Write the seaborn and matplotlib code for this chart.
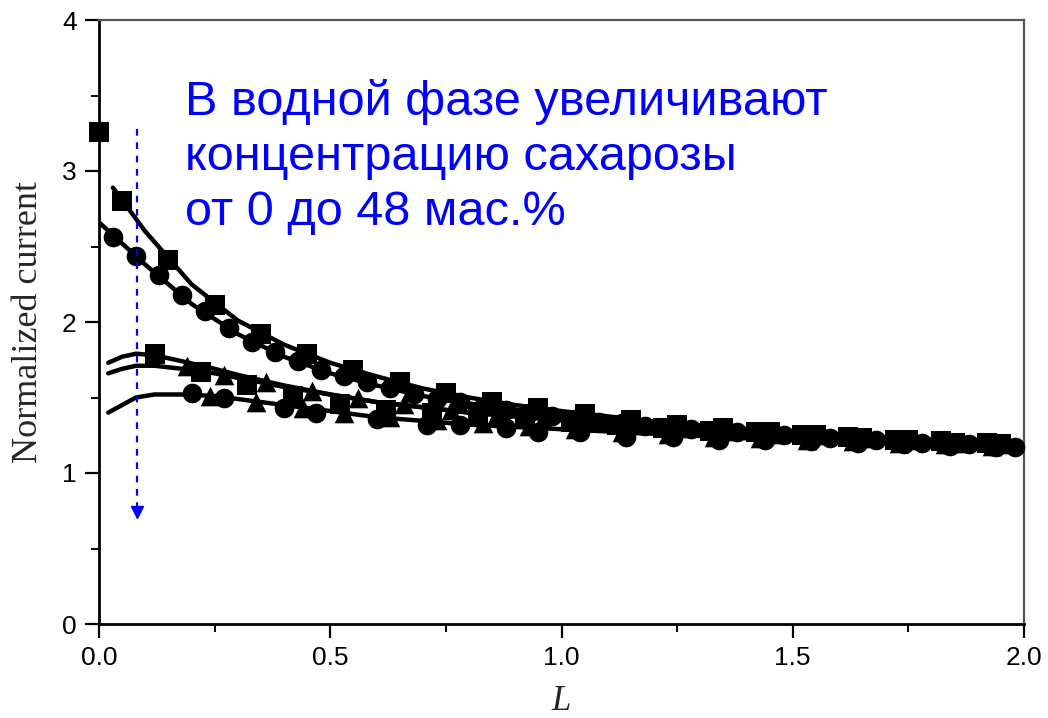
import numpy as np
import pandas as pd
import matplotlib
matplotlib.use("Agg")
import matplotlib.pyplot as plt
import seaborn as sns

# ---------------- data ----------------
# top series, squares
sq1_x = [0.0, 0.05, 0.15, 0.25, 0.35, 0.45, 0.55, 0.65, 0.75, 0.85, 0.95, 1.05, 1.15, 1.25, 1.35, 1.45, 1.55, 1.65, 1.75, 1.85, 1.95]
sq1_y = [3.26, 2.80, 2.41, 2.11, 1.92, 1.79, 1.68, 1.60, 1.53, 1.47, 1.43, 1.39, 1.35, 1.32, 1.30, 1.27, 1.25, 1.23, 1.22, 1.20, 1.19]
# top series, circles
ci1_x = [0.03, 0.08, 0.13, 0.18, 0.23, 0.28, 0.33, 0.38, 0.43, 0.48, 0.53, 0.58, 0.63, 0.68, 0.73, 0.78, 0.83, 0.88, 0.93, 0.98,
         1.03, 1.08, 1.13, 1.18, 1.23, 1.28, 1.33, 1.38, 1.43, 1.48, 1.53, 1.58, 1.63, 1.68, 1.73, 1.78, 1.83, 1.88, 1.93, 1.98]
ci1_y = [2.56, 2.44, 2.31, 2.18, 2.07, 1.96, 1.87, 1.80, 1.74, 1.68, 1.64, 1.60, 1.56, 1.52, 1.49, 1.47, 1.44, 1.42, 1.40, 1.38,
         1.36, 1.34, 1.33, 1.31, 1.30, 1.29, 1.28, 1.27, 1.26, 1.25, 1.24, 1.23, 1.22, 1.22, 1.21, 1.20, 1.19, 1.19, 1.18, 1.17]
# middle series, squares
sq2_x = [0.12, 0.22, 0.32, 0.42, 0.52, 0.62, 0.72, 0.82, 0.92, 1.02, 1.12, 1.22, 1.32, 1.42, 1.52, 1.62, 1.72, 1.82, 1.92]
sq2_y = [1.79, 1.67, 1.58, 1.51, 1.46, 1.42, 1.40, 1.38, 1.36, 1.34, 1.32, 1.30, 1.28, 1.27, 1.25, 1.24, 1.22, 1.21, 1.20]
# middle series, triangles
tr2_x = [0.19, 0.27, 0.36, 0.46, 0.56, 0.66, 0.76, 0.86, 0.96, 1.06, 1.16, 1.26, 1.36, 1.46, 1.56, 1.66, 1.76, 1.86, 1.96]
tr2_y = [1.71, 1.65, 1.60, 1.54, 1.50, 1.46, 1.42, 1.39, 1.36, 1.34, 1.32, 1.30, 1.28, 1.26, 1.25, 1.23, 1.22, 1.20, 1.19]
# bottom series, circles
ci3_x = [0.20, 0.27, 0.40, 0.47, 0.60, 0.71, 0.78, 0.88, 0.95, 1.04, 1.14, 1.24, 1.34, 1.44, 1.54, 1.64, 1.74, 1.84, 1.94]
ci3_y = [1.53, 1.50, 1.43, 1.40, 1.36, 1.32, 1.32, 1.30, 1.27, 1.27, 1.24, 1.24, 1.22, 1.22, 1.21, 1.20, 1.19, 1.18, 1.17]
# bottom series, triangles
tr3_x = [0.24, 0.34, 0.44, 0.53, 0.63, 0.73, 0.83, 0.93, 1.03, 1.13, 1.23, 1.33, 1.43, 1.53, 1.63, 1.73, 1.83, 1.93]
tr3_y = [1.51, 1.47, 1.43, 1.40, 1.37, 1.35, 1.33, 1.31, 1.29, 1.27, 1.26, 1.24, 1.23, 1.22, 1.21, 1.20, 1.19, 1.18]

# fitted curves
fit1_x = [0.03, 0.1, 0.2, 0.3, 0.4, 0.5, 0.6, 0.7, 0.8, 0.9, 1.0, 1.2, 1.4, 1.6, 1.8, 2.0]
fit1_y = [2.89, 2.60, 2.25, 2.01, 1.85, 1.73, 1.64, 1.56, 1.50, 1.45, 1.41, 1.34, 1.29, 1.25, 1.22, 1.19]
fit2_x = [0.0, 0.1, 0.2, 0.3, 0.4, 0.5, 0.6, 0.7, 0.8, 0.9, 1.0, 1.2, 1.4, 1.6, 1.8, 2.0]
fit2_y = [2.66, 2.38, 2.12, 1.92, 1.77, 1.66, 1.58, 1.51, 1.46, 1.42, 1.38, 1.32, 1.27, 1.23, 1.20, 1.17]
fit3_x = [0.02, 0.05, 0.08, 0.12, 0.18, 0.25, 0.3, 0.4, 0.5, 0.6, 0.8, 1.0, 1.2, 1.4, 1.6, 1.8, 2.0]
fit3_y = [1.73, 1.77, 1.79, 1.78, 1.74, 1.69, 1.65, 1.58, 1.52, 1.47, 1.40, 1.35, 1.31, 1.28, 1.25, 1.22, 1.19]
fit4_x = [0.02, 0.05, 0.08, 0.12, 0.18, 0.25, 0.3, 0.4, 0.5, 0.6, 0.8, 1.0, 1.2, 1.4, 1.6, 1.8, 2.0]
fit4_y = [1.66, 1.69, 1.71, 1.71, 1.69, 1.66, 1.63, 1.57, 1.52, 1.47, 1.40, 1.35, 1.31, 1.27, 1.24, 1.22, 1.19]
fit5_x = [0.02, 0.05, 0.08, 0.12, 0.18, 0.25, 0.3, 0.4, 0.5, 0.6, 0.8, 1.0, 1.2, 1.4, 1.6, 1.8, 2.0]
fit5_y = [1.40, 1.45, 1.50, 1.52, 1.52, 1.51, 1.49, 1.45, 1.41, 1.37, 1.32, 1.29, 1.26, 1.23, 1.21, 1.19, 1.17]

x_ticks = [0.0, 0.5, 1.0, 1.5, 2.0]
x_ticklabels = ["0.0", "0.5", "1.0", "1.5", "2.0"]
y_ticks = [0, 1, 2, 3, 4]
y_ticklabels = ["0", "1", "2", "3", "4"]

annotation = "В водной фазе увеличивают\nконцентрацию сахарозы\nот 0 до 48 мас.%"
arrow_x = 0.082
arrow_y_start = 3.28
arrow_y_end = 0.69

# ---------------- plot ----------------
sns.set_theme(style="ticks")
plt.rcParams["font.family"] = ["Liberation Sans", "DejaVu Sans"]

fig = plt.figure(figsize=(10.48, 7.18), dpi=100)
ax = fig.add_axes([99 / 1048, 1 - 624 / 718, (1024 - 99) / 1048, (624 - 20) / 718])

for fx, fy in [(fit1_x, fit1_y), (fit2_x, fit2_y), (fit3_x, fit3_y), (fit4_x, fit4_y), (fit5_x, fit5_y)]:
    sns.lineplot(x=fx, y=fy, ax=ax, color="black", linewidth=3.2, sort=False, estimator=None, zorder=2)

marker_sets = [
    (sq1_x, sq1_y, "s", 190),
    (ci1_x, ci1_y, "o", 200),
    (sq2_x, sq2_y, "s", 190),
    (tr2_x, tr2_y, "^", 200),
    (ci3_x, ci3_y, "o", 200),
    (tr3_x, tr3_y, "^", 200),
]
for mx, my, mk, ms in marker_sets:
    sns.scatterplot(x=mx, y=my, ax=ax, marker=mk, s=ms, color="black", edgecolor="black", linewidth=0, zorder=3, clip_on=False)

# dashed blue arrow
ax.plot([arrow_x, arrow_x], [arrow_y_start, arrow_y_end + 0.06], linestyle=(0, (3, 3)), color="#0000FF", linewidth=1.6, zorder=4)
ax.plot([arrow_x], [arrow_y_end + 0.05], marker="v", markersize=9, color="#0000FF", linestyle="none", zorder=4)

ax.set_xlim(0, 2.0)
ax.set_ylim(0, 4)
ax.set_xticks(x_ticks)
ax.set_xticklabels(x_ticklabels)
ax.set_yticks(y_ticks)
ax.set_yticklabels(y_ticklabels)
ax.set_xticks([0.25, 0.75, 1.25, 1.75], minor=True)
ax.set_yticks([0.5, 1.5, 2.5, 3.5], minor=True)
ax.tick_params(axis="both", which="major", direction="out", length=10, width=1.6, labelsize=19, colors="black", pad=6)
ax.tick_params(axis="both", which="minor", direction="out", length=6, width=1.4, colors="black")
ax.tick_params(top=False, right=False, which="both")

for side in ["left", "bottom"]:
    ax.spines[side].set_color("black")
    ax.spines[side].set_linewidth(2)
for side in ["top", "right"]:
    ax.spines[side].set_visible(True)
    ax.spines[side].set_color("#555555")
    ax.spines[side].set_linewidth(1.6)

ax.set_xlabel("L", fontsize=25, family=["Liberation Serif", "DejaVu Serif"], style="italic", labelpad=11)
ax.set_ylabel("Normalized current", fontsize=26, family=["Liberation Serif", "DejaVu Serif"], labelpad=12)

fig.text(185 / 1048, 1 - 79 / 718, annotation, color="#0000FF", fontsize=35, va="top", ha="left",
         linespacing=1.28, family=["Liberation Sans", "DejaVu Sans"])

fig.savefig("out.png", dpi=100, facecolor="white")
